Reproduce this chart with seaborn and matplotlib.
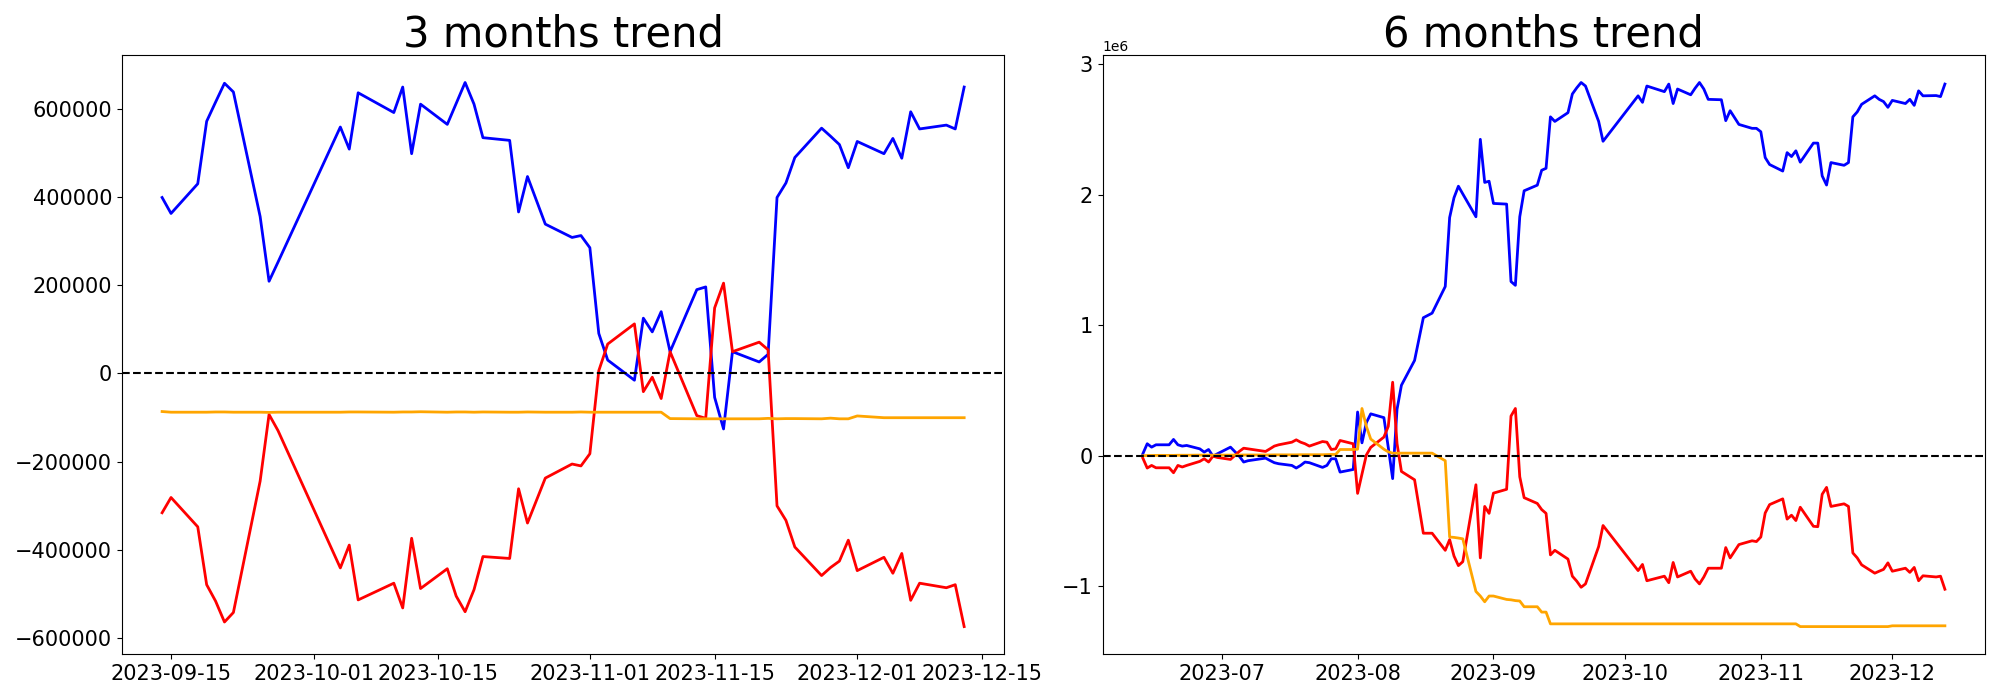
import pandas as pd
import matplotlib
matplotlib.use("Agg")
import matplotlib.pyplot as plt
import seaborn as sns

# 3 months window
dates_3m = [
    "2023-09-14", "2023-09-15", "2023-09-18", "2023-09-19", "2023-09-20", "2023-09-21",
    "2023-09-22", "2023-09-25", "2023-09-26", "2023-09-27",
    "2023-10-04", "2023-10-05", "2023-10-06", "2023-10-10", "2023-10-11", "2023-10-12",
    "2023-10-13", "2023-10-16", "2023-10-17", "2023-10-18", "2023-10-19", "2023-10-20",
    "2023-10-23", "2023-10-24", "2023-10-25", "2023-10-27", "2023-10-30", "2023-10-31",
    "2023-11-01", "2023-11-02", "2023-11-03", "2023-11-06", "2023-11-07", "2023-11-08",
    "2023-11-09", "2023-11-10", "2023-11-13", "2023-11-14", "2023-11-15", "2023-11-16",
    "2023-11-17", "2023-11-20", "2023-11-21", "2023-11-22", "2023-11-23", "2023-11-24",
    "2023-11-27", "2023-11-28", "2023-11-29", "2023-11-30",
    "2023-12-01", "2023-12-04", "2023-12-05", "2023-12-06", "2023-12-07", "2023-12-08",
    "2023-12-11", "2023-12-12", "2023-12-13",
]
blue_3m = [
    398800, 362600, 429900, 571500, 615000, 657800,
    638000, 355700, 208900, 252000,
    558600, 508500, 636200, 591400, 649200, 498100,
    610400, 564600, 612000, 659500, 610400, 534400,
    528300, 366000, 446300, 338400, 308200, 312500,
    284900, 90600, 30200, -15500, 125200, 94100,
    139900, 49200, 189900, 196000, -54400, -126000,
    49200, 25900, 43200, 398800, 431700, 489500,
    556000, 537800, 518800, 466200,
    525800, 498100, 532700, 487800, 593100, 554200,
    562900, 554200, 649200,
]
red_3m = [
    -316000, -281400, -347900, -479100, -516300, -563700,
    -542100, -244300, -93200, -129500,
    -441100, -389300, -513600, -475700, -531800, -373800,
    -487800, -442900, -505000, -540400, -490400, -415300,
    -419600, -261600, -339300, -237400, -205500, -209800,
    -182200, 6000, 66500, 112200, -41400, -8600,
    -57000, 49200, -95800, -101900, 148500, 204600,
    49200, 70800, 53500, -300400, -333200, -393700,
    -458400, -440300, -425600, -378100,
    -447200, -417000, -453200, -408300, -514500, -475700,
    -486000, -479100, -574100,
]
orange_3m = [
    -86500, -88000, -88000, -88000, -87500, -87500,
    -88000, -88000, -88500, -88000,
    -88000, -87500, -87500, -88000, -87500, -87500,
    -87000, -88000, -87500, -87500, -88000, -87500,
    -88000, -88000, -87500, -88000, -88000, -87500,
    -88000, -88000, -88000, -88000, -88000, -88000,
    -88000, -102500, -103000, -103000, -103000, -103000,
    -103000, -103000, -102000, -103000, -102500, -102500,
    -103000, -101500, -103000, -103000,
    -96500, -100500, -100500, -100500, -100500, -100500,
    -100500, -100500, -100500,
]

# 6 months window
dates_6m = [
    "2023-06-13", "2023-06-14", "2023-06-15", "2023-06-16", "2023-06-19", "2023-06-20",
    "2023-06-21", "2023-06-22", "2023-06-23", "2023-06-26", "2023-06-27", "2023-06-28",
    "2023-06-29", "2023-06-30",
    "2023-07-03", "2023-07-05", "2023-07-06", "2023-07-07", "2023-07-10", "2023-07-11",
    "2023-07-12", "2023-07-13", "2023-07-14", "2023-07-17", "2023-07-18", "2023-07-19",
    "2023-07-20", "2023-07-21", "2023-07-24", "2023-07-25", "2023-07-26", "2023-07-27",
    "2023-07-28", "2023-07-31",
    "2023-08-01", "2023-08-02", "2023-08-03", "2023-08-04", "2023-08-07", "2023-08-08",
    "2023-08-09", "2023-08-10", "2023-08-11", "2023-08-14", "2023-08-16", "2023-08-18",
    "2023-08-21", "2023-08-22", "2023-08-23", "2023-08-24", "2023-08-25", "2023-08-28",
    "2023-08-29", "2023-08-30", "2023-08-31",
    "2023-09-01", "2023-09-04", "2023-09-05", "2023-09-06", "2023-09-07", "2023-09-08",
    "2023-09-11", "2023-09-12", "2023-09-13", "2023-09-14", "2023-09-15", "2023-09-18",
    "2023-09-19", "2023-09-20", "2023-09-21", "2023-09-22", "2023-09-25", "2023-09-26",
    "2023-10-04", "2023-10-05", "2023-10-06", "2023-10-10", "2023-10-11", "2023-10-12",
    "2023-10-13", "2023-10-16", "2023-10-17", "2023-10-18", "2023-10-19", "2023-10-20",
    "2023-10-23", "2023-10-24", "2023-10-25", "2023-10-27", "2023-10-30", "2023-10-31",
    "2023-11-01", "2023-11-02", "2023-11-03", "2023-11-06", "2023-11-07", "2023-11-08",
    "2023-11-09", "2023-11-10", "2023-11-13", "2023-11-14", "2023-11-15", "2023-11-16",
    "2023-11-17", "2023-11-20", "2023-11-21", "2023-11-22", "2023-11-23", "2023-11-24",
    "2023-11-27", "2023-11-28", "2023-11-29", "2023-11-30",
    "2023-12-01", "2023-12-04", "2023-12-05", "2023-12-06", "2023-12-07", "2023-12-08",
    "2023-12-11", "2023-12-12", "2023-12-13",
]
blue_6m = [
    15000, 92000, 66000, 84000, 84000, 125000, 84000, 74000, 79000, 53000, 28000, 48000,
    -3000, 15000,
    66000, -3000, -48000, -38000, -23000, -18000, -36000, -53000, -61000, -74000,
    -94000, -74000, -48000, -53000, -89000, -74000, -23000, -23000, -125000, -105000,
    335000, 99000, 254000, 321000, 292000, 64000, -175000, 356000, 540000, 730000,
    1057000, 1092000, 1296000, 1824000, 1976000, 2064000, 2005000, 1830000, 2423000,
    2093000, 2102000,
    1932000, 1927000, 1334000, 1305000, 1830000, 2029000, 2072000, 2186000, 2201000,
    2595000, 2560000, 2627000, 2770000, 2817000, 2858000, 2831000, 2560000, 2408000,
    2756000, 2706000, 2831000, 2788000, 2846000, 2697000, 2808000, 2764000, 2814000,
    2858000, 2808000, 2729000, 2726000, 2566000, 2642000, 2537000, 2507000, 2507000,
    2481000, 2283000, 2230000, 2180000, 2321000, 2291000, 2335000, 2248000, 2394000,
    2394000, 2143000, 2073000, 2245000, 2224000, 2245000, 2595000, 2633000, 2691000,
    2756000, 2729000, 2712000, 2668000,
    2721000, 2697000, 2729000, 2683000, 2794000, 2756000, 2758000, 2750000, 2846000,
]
red_6m = [
    -18000, -94000, -74000, -92000, -92000, -130000, -74000, -86000, -74000, -43000,
    -23000, -48000, -3000, -13000,
    -28000, 33000, 58000, 53000, 38000, 33000, 53000, 74000, 84000, 104000, 122000,
    104000, 92000, 74000, 109000, 104000, 48000, 53000, 117000, 92000,
    -288000, -140000, 6000, 64000, 143000, 225000, 563000, 93000, -120000, -184000,
    -593000, -593000, -724000, -642000, -768000, -841000, -811000, -222000, -782000,
    -388000, -441000,
    -286000, -257000, 304000, 362000, -161000, -321000, -365000, -412000, -441000,
    -759000, -724000, -791000, -922000, -960000, -1007000, -981000, -695000, -534000,
    -879000, -832000, -957000, -922000, -972000, -817000, -928000, -884000, -943000,
    -981000, -928000, -861000, -861000, -703000, -782000, -680000, -651000, -657000,
    -622000, -438000, -374000, -330000, -485000, -455000, -496000, -394000, -540000,
    -543000, -295000, -242000, -388000, -368000, -388000, -744000, -782000, -835000,
    -899000, -884000, -870000, -820000,
    -884000, -861000, -893000, -855000, -957000, -919000, -928000, -922000, -1022000,
]
orange_6m = [
    0, 2000, 2000, 3000, 3000, 3000, 4000, 4000, 4000, 5000, 5000, 5000, 5000, 5000,
    5000, 5000, 6000, 6000, 6000, 6000, 6000, 7000, 7000, 7000, 7000, 8000, 8000, 8000,
    8000, 9000, 10000, 10000, 48000, 48000,
    50000, 362000, 225000, 128000, 50000, 30000, 20000, 20000, 20000, 20000, 20000,
    20000, -38000, -622000, -625000, -630000, -636000, -1039000, -1074000, -1118000,
    -1074000,
    -1074000, -1100000, -1103000, -1109000, -1112000, -1156000, -1156000, -1197000,
    -1197000, -1287000, -1287000, -1287000, -1287000, -1287000, -1287000, -1287000,
    -1287000, -1287000,
    -1287000, -1287000, -1287000, -1287000, -1287000, -1287000, -1287000, -1287000,
    -1287000, -1287000, -1287000, -1287000, -1287000, -1287000, -1287000, -1287000,
    -1287000, -1287000,
    -1287000, -1287000, -1287000, -1287000, -1287000, -1287000, -1287000, -1308000,
    -1308000, -1308000, -1308000, -1308000, -1308000, -1308000, -1308000, -1308000,
    -1308000, -1308000, -1308000, -1308000, -1308000, -1308000,
    -1302000, -1302000, -1302000, -1302000, -1302000, -1302000, -1302000, -1302000,
    -1302000,
]

assert len(dates_3m) == len(blue_3m) == len(red_3m) == len(orange_3m)
assert len(dates_6m) == len(blue_6m) == len(red_6m) == len(orange_6m)


def make_df(dates, blue, red, orange):
    return pd.DataFrame({
        "date": pd.to_datetime(dates),
        "blue": blue,
        "red": red,
        "orange": orange,
    })


def draw_trend(ax, df, title):
    for col in ["blue", "red", "orange"]:
        sns.lineplot(data=df, x="date", y=col, color=col, linewidth=2, ax=ax)
    ax.axhline(0, color="black", linestyle="--", linewidth=1.5)
    ax.set_title(title, fontsize=30)
    ax.set_xlabel("")
    ax.set_ylabel("")
    ax.tick_params(labelsize=15)
    ax.yaxis.get_offset_text().set_fontsize(10)


fig, axes = plt.subplots(1, 2, figsize=(20, 7), dpi=100)
draw_trend(axes[0], make_df(dates_3m, blue_3m, red_3m, orange_3m), "3 months trend")
draw_trend(axes[1], make_df(dates_6m, blue_6m, red_6m, orange_6m), "6 months trend")
plt.subplots_adjust(left=0.061, right=0.9925, bottom=0.066, top=0.921, wspace=0.1116)
plt.savefig("out.png", dpi=100)
plt.close()
